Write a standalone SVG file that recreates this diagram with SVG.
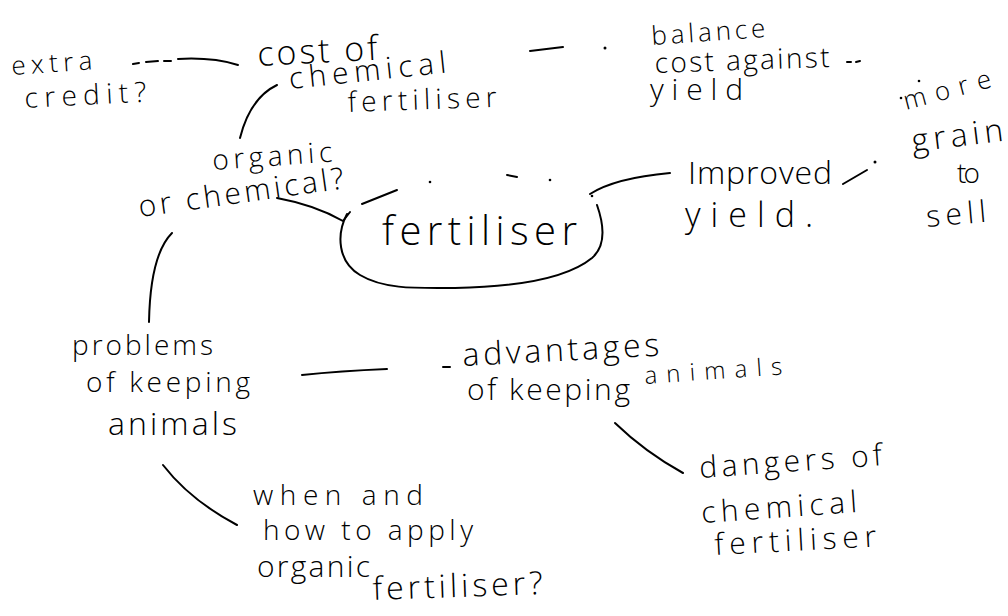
<svg xmlns="http://www.w3.org/2000/svg" width="1008" height="616" viewBox="0 0 1008 616">
<style>
text{font-family:"Open Sans","Liberation Sans",sans-serif;font-weight:300;fill:#000}
.s24{font-size:24px}.s26{font-size:26px}.s28{font-size:28px}.s30{font-size:30px}.s32{font-size:32px}.s34{font-size:34px}.s40{font-size:40px}
.ln{fill:none;stroke:#000;stroke-width:2;stroke-linecap:round;stroke-linejoin:round}
.dot{fill:#000}
</style>
<rect width="1008" height="616" fill="#fff"/>
<g id="connectors" class="ln">
<path d="M133,64 L139,63 M146,62 L158,61 M164,61 L171,61"/>
<path d="M178,59 Q212,57 238,65"/>
<path d="M530,51 L563,47"/>
<path d="M277,85 Q250,98 240,138"/>
<path d="M277,198 Q315,205 343,221 L350,212"/>
<path d="M590,194 Q615,178 670,173"/>
<path d="M843,184 L867,170"/>
<path d="M172,233 C160,245 150,270 149,322"/>
<path d="M302,375 Q340,371 387,369"/>
<path d="M443,367 L450,367"/>
<path d="M615,423 Q645,452 683,473"/>
<path d="M163,465 Q190,500 237,525"/>
</g>
<g id="dots">
<circle class="dot" cx="605" cy="48" r="1.5"/>
<circle class="dot" cx="875" cy="162" r="1.5"/>
<circle class="dot" cx="919" cy="81" r="1.3"/>
<circle class="dot" cx="901" cy="98" r="1.3"/>
</g>
<g id="extra-credit">
<text class="s26" x="12" y="75" textLength="81" lengthAdjust="spacing" transform="rotate(-4 12 75)">extra</text>
<text class="s28" x="25" y="108" textLength="122" lengthAdjust="spacing" transform="rotate(-3 25 108)">credit?</text>
</g>
<g id="cost-of-chemical-fertiliser">
<text class="s34" x="258" y="66" textLength="120" lengthAdjust="spacing" transform="rotate(-3 258 66)">cost of</text>
<text class="s30" x="290" y="89" textLength="158" lengthAdjust="spacing" transform="rotate(-6 290 89)">chemical</text>
<text class="s28" x="348" y="112" textLength="149" lengthAdjust="spacing" transform="rotate(-2 348 112)">fertiliser</text>
</g>
<g id="balance-cost-against-yield">
<text class="s26" x="652" y="45" textLength="114" lengthAdjust="spacing" transform="rotate(-4 652 45)">balance</text>
<text class="s28" x="655" y="73" textLength="175" lengthAdjust="spacing" transform="rotate(-2 655 73)">cost against</text>
<path class="ln" d="M847,62 L851,62 M856,62 L860,61"/>
<text class="s30" x="650" y="100" textLength="93" lengthAdjust="spacing">yield</text>
</g>
<g id="more-grain-to-sell">
<text class="s26" x="906" y="110" textLength="90" lengthAdjust="spacing" transform="rotate(-15 906 110)">more</text>
<text class="s32" x="913" y="152" textLength="92" lengthAdjust="spacing" transform="rotate(-7 913 152)">grain</text>
<text class="s28" x="957" y="183" textLength="23" lengthAdjust="spacing">to</text>
<text class="s30" x="927" y="227" textLength="60" lengthAdjust="spacing" transform="rotate(-5 927 227)">sell</text>
</g>
<g id="improved-yield">
<text class="s32" x="688" y="184" textLength="144" lengthAdjust="spacing">Improved</text>
<text class="s34" x="685" y="227" textLength="128" lengthAdjust="spacing">yield.</text>
</g>
<g id="fertiliser">
<path class="ln" d="M347,214 C336,235 338,262 360,275 C385,290 420,288 455,288 C510,287 565,280 592,258 C606,246 604,225 597,205"/>
<path class="ln" d="M362,204 L397,190 M507,175 L517,177"/>
<circle class="dot" cx="430" cy="182" r="1.3"/>
<circle class="dot" cx="550" cy="180" r="1.3"/>
<circle class="dot" cx="592" cy="196" r="1.3"/>
<text class="s40" x="382" y="245" textLength="195" lengthAdjust="spacing">fertiliser</text>
</g>
<g id="organic-or-chemical">
<text class="s28" x="213" y="170" textLength="120" lengthAdjust="spacing" transform="rotate(-4 213 170)">organic</text>
<text class="s30" x="140" y="217" textLength="207" lengthAdjust="spacing" transform="rotate(-8 140 217)">or chemical?</text>
</g>
<g id="problems-of-keeping-animals">
<text class="s28" x="72" y="355" textLength="141" lengthAdjust="spacing">problems</text>
<text class="s28" x="86" y="392" textLength="164" lengthAdjust="spacing">of keeping</text>
<text class="s32" x="108" y="435" textLength="129" lengthAdjust="spacing">animals</text>
</g>
<g id="advantages-of-keeping-animals">
<text class="s32" x="463" y="366" textLength="197" lengthAdjust="spacing" transform="rotate(-3 463 366)">advantages</text>
<text class="s30" x="467" y="400" textLength="163" lengthAdjust="spacing">of keeping</text>
<text class="s24" x="645" y="384" textLength="138" lengthAdjust="spacing" transform="rotate(-4 645 384)">animals</text>
</g>
<g id="dangers-of-chemical-fertiliser">
<text class="s30" x="700" y="478" textLength="183" lengthAdjust="spacing" transform="rotate(-4 700 478)">dangers of</text>
<text class="s30" x="702" y="523" textLength="156" lengthAdjust="spacing" transform="rotate(-4 702 523)">chemical</text>
<text class="s30" x="715" y="555" textLength="162" lengthAdjust="spacing" transform="rotate(-3 715 555)">fertiliser</text>
</g>
<g id="when-and-how-to-apply">
<text class="s28" x="253" y="505" textLength="170" lengthAdjust="spacing">when and</text>
<text class="s28" x="263" y="540" textLength="210" lengthAdjust="spacing">how to apply</text>
<text class="s30" x="257" y="577" textLength="113" lengthAdjust="spacing">organic</text>
<text class="s32" x="373" y="600" textLength="170" lengthAdjust="spacing" transform="rotate(-2 373 600)">fertiliser?</text>
</g>
</svg>
